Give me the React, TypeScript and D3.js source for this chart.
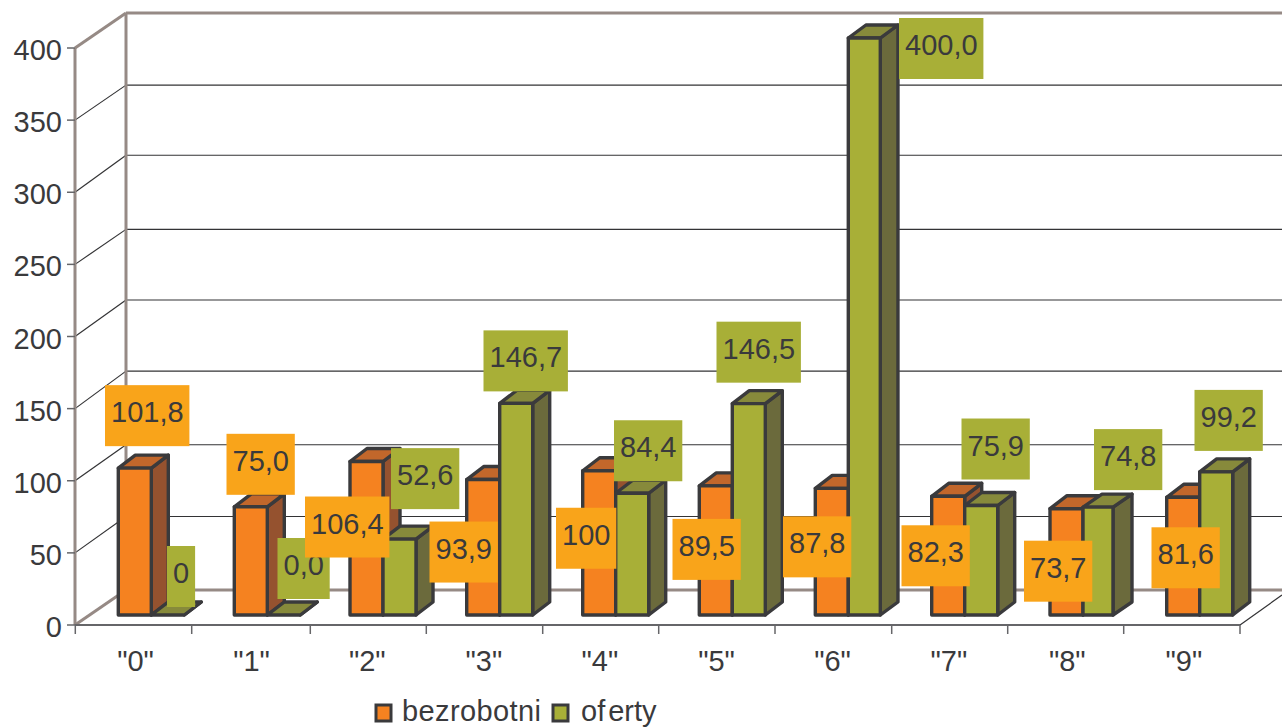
import React from "react";
import * as d3 from "d3";

const categories = ['"0"', '"1"', '"2"', '"3"', '"4"', '"5"', '"6"', '"7"', '"8"', '"9"'];
const bezrobotni = [101.8, 75.0, 106.4, 93.9, 100, 89.5, 87.8, 82.3, 73.7, 81.6];
const oferty = [0, 0, 52.6, 146.7, 84.4, 146.5, 400.0, 75.9, 74.8, 99.2];
const bezrobotniLabels = ["101,8", "75,0", "106,4", "93,9", "100", "89,5", "87,8", "82,3", "73,7", "81,6"];
const ofertyLabels = ["0", "0,0", "52,6", "146,7", "84,4", "146,5", "400,0", "75,9", "74,8", "99,2"];
const yTicks = [0, 50, 100, 150, 200, 250, 300, 350, 400];

// Hand-placed data label offsets, relative to each bar's nominal top-left corner
const bezrobotniLabelDx = [-13, -8, -46, -38, -28, -28, -34, -32, -26, -15];
const bezrobotniLabelDy = [-83, -73, 35, 42, 37, 33, 28, 29, 32, 30];
const ofertyLabelDx = [16, 10, 7, -17, -3, -17, 49, -5, 11, -5];
const ofertyLabelDy = [-69, -77, -91, -73, -73, -82, -20, -87, -78, -82];

// Pixel-snapping quirks of the original renderer
const barNudge = [0.3, -0.2, -1, -0.8, -1.3, -1.2, -1.7, -1.8, 0, 0.2];
const ofertyWidthNudge = [0, 0, 0, 0, 0, 0, -1, 0, -3, 0];
const tickNudge = [0.3, 0.2, 2.3, 1.8, 1.7, 1.2, 1, 1.2, 0.7, 0.2, 0];
const wallNudge = [0, -1.4, -1, -2.5, -1.5, 0, -2, 0, 0];

const W = 1282, H = 728;
const INK = "#3a3a3c", WALL = "#968a85", GRID = "#333335", TICK = "#666669";
const FONT = "'Liberation Sans', Arial, sans-serif";
const FS = 29;

const x = d3.scaleBand<string>().domain(categories).range([75, 1240]);
const yAxis = d3.scaleLinear().domain([0, 400]).range([625, 48]);
const WALL_DX = 51, WALL_DY = -35;
const BAR_INSET = 43, BAR_W = 33, BAR_LIFT = 10, DEPTH_X = 17, DEPTH_Y = -13;

const pts = (p: number[][]) => p.map((q) => q.join(",")).join(" ");

function Bar({ left, width = BAR_W, depth = DEPTH_X, value, front, side, top }: { left: number; width?: number; depth?: number; value: number; front: string; side: string; top: string }) {
  const base = yAxis(0) - BAR_LIFT;
  const t = yAxis(value) - BAR_LIFT;
  const r = left + width;
  const common = { stroke: INK, strokeWidth: 3.4, strokeLinejoin: "round" as const };
  return (
    <g>
      <polygon {...common} fill={side} points={pts([[r, t], [r + depth, t + DEPTH_Y], [r + depth, base + DEPTH_Y], [r, base]])} />
      <polygon {...common} fill={top} points={pts([[left, t], [left + depth, t + DEPTH_Y], [r + depth, t + DEPTH_Y], [r, t]])} />
      <rect {...common} fill={front} x={left} y={t} width={width} height={base - t} />
    </g>
  );
}

function Label({ bx, by, text, fill }: { bx: number; by: number; text: string; fill: string }) {
  const w = d3.sum(Array.from(text), (c) => (c === "," ? 8 : 16.1)) + 12;
  return (
    <g>
      <rect x={bx} y={by} width={w} height={61} fill={fill} />
      <text x={bx + 6} y={by + 37} fontSize={FS} fill={INK} fontFamily={FONT}>{text}</text>
    </g>
  );
}

export default function App() {
  const x0 = x.range()[0], x1 = x.range()[1];
  const ticksX = [...categories.map((c) => x(c) as number), x1].map((v, i) => v + tickNudge[i]);
  const nominal = (c: string) => (x(c) as number) + BAR_INSET;
  const wallY = (t: number, i: number) => yAxis(t) + WALL_DY + wallNudge[i];
  return (
    <svg width={W} height={H} viewBox={`0 0 ${W} ${H}`} style={{ position: "absolute", left: 0, top: 0, display: "block", background: "#fff" }}>
      {/* gridlines */}
      {yTicks.map((t, i) =>
        i === 0 || i === yTicks.length - 1 ? null : (
          <g key={t} stroke={GRID} strokeWidth={1.2} fill="none">
            <line x1={x0} y1={yAxis(t)} x2={x0 + WALL_DX} y2={wallY(t, i)} />
            <line x1={x0 + WALL_DX} y1={wallY(t, i)} x2={W} y2={wallY(t, i)} />
          </g>
        )
      )}
      {/* walls and floor */}
      <g stroke={WALL} strokeWidth={3} fill="none">
        <line x1={x0} y1={yAxis(400)} x2={x0} y2={yAxis(0)} />
        <line x1={x0 + WALL_DX} y1={yAxis(400) + WALL_DY} x2={x0 + WALL_DX} y2={yAxis(0) + WALL_DY} />
        <line x1={x0} y1={yAxis(400)} x2={x0 + WALL_DX} y2={yAxis(400) + WALL_DY} />
        <line x1={x0 + WALL_DX} y1={yAxis(400) + WALL_DY} x2={W} y2={yAxis(400) + WALL_DY} />
        <line x1={x0} y1={yAxis(0)} x2={x0 + WALL_DX} y2={yAxis(0) + WALL_DY} />
        <line x1={x0 + WALL_DX} y1={yAxis(0) + WALL_DY} x2={W} y2={yAxis(0) + WALL_DY} />
      </g>
      <line x1={x1} y1={yAxis(0)} x2={W} y2={yAxis(0) - 30} stroke={GRID} strokeWidth={1.2} />
      {/* axes */}
      <line x1={x0} y1={yAxis(0)} x2={x1} y2={yAxis(0)} stroke={TICK} strokeWidth={2} />
      {ticksX.map((t) => (
        <line key={t} x1={t} y1={yAxis(0)} x2={t} y2={yAxis(0) + 9} stroke={TICK} strokeWidth={1.5} />
      ))}
      {yTicks.map((t) => (
        <g key={t}>
          <line x1={x0 - 8} y1={yAxis(t)} x2={x0} y2={yAxis(t)} stroke={TICK} strokeWidth={1.5} />
          <text x={62} y={yAxis(t) + 12} textAnchor="end" fontSize={FS} fill={INK} fontFamily={FONT}>{t}</text>
        </g>
      ))}
      {categories.map((c, i) => (
        <text key={c} x={(x(c) as number) + x.bandwidth() / 2 + 2 + barNudge[i]} y={671} textAnchor="middle" fontSize={FS} fill={INK} fontFamily={FONT}>{c}</text>
      ))}
      {/* bars */}
      {categories.map((c, i) => (
        <g key={c}>
          <Bar left={nominal(c) + barNudge[i]} value={bezrobotni[i]} front="#f58220" side="#95522f" top="#c2672b" />
          <Bar
            left={nominal(c) + barNudge[i] + BAR_W}
            width={BAR_W + ofertyWidthNudge[i]}
            depth={DEPTH_X - (ofertyWidthNudge[i] * 2) / 3}
            value={oferty[i]}
            front="#a8af37"
            side="#6b6a3c"
            top="#878a3b"
          />
        </g>
      ))}
      {/* data labels */}
      {categories.map((c, i) => (
        <Label key={c} bx={nominal(c) + BAR_W + ofertyLabelDx[i]} by={yAxis(oferty[i]) - BAR_LIFT + ofertyLabelDy[i]} text={ofertyLabels[i]} fill="#a8af37" />
      ))}
      {categories.map((c, i) => (
        <Label key={c} bx={nominal(c) + bezrobotniLabelDx[i]} by={yAxis(bezrobotni[i]) - BAR_LIFT + bezrobotniLabelDy[i]} text={bezrobotniLabels[i]} fill="#f9a41a" />
      ))}
      {/* legend */}
      <rect x={376} y={705} width={15} height={16} fill="#f58220" stroke={INK} strokeWidth={3} />
      <text x={402} y={721} fontSize={FS} fill={INK} fontFamily={FONT} textLength={139} lengthAdjust="spacing">bezrobotni</text>
      <rect x={553} y={705} width={15} height={16} fill="#a8af37" stroke={INK} strokeWidth={3} />
      <text x={581} y={721} fontSize={FS} fill={INK} fontFamily={FONT}>of<tspan dx={3}>erty</tspan></text>
    </svg>
  );
}
